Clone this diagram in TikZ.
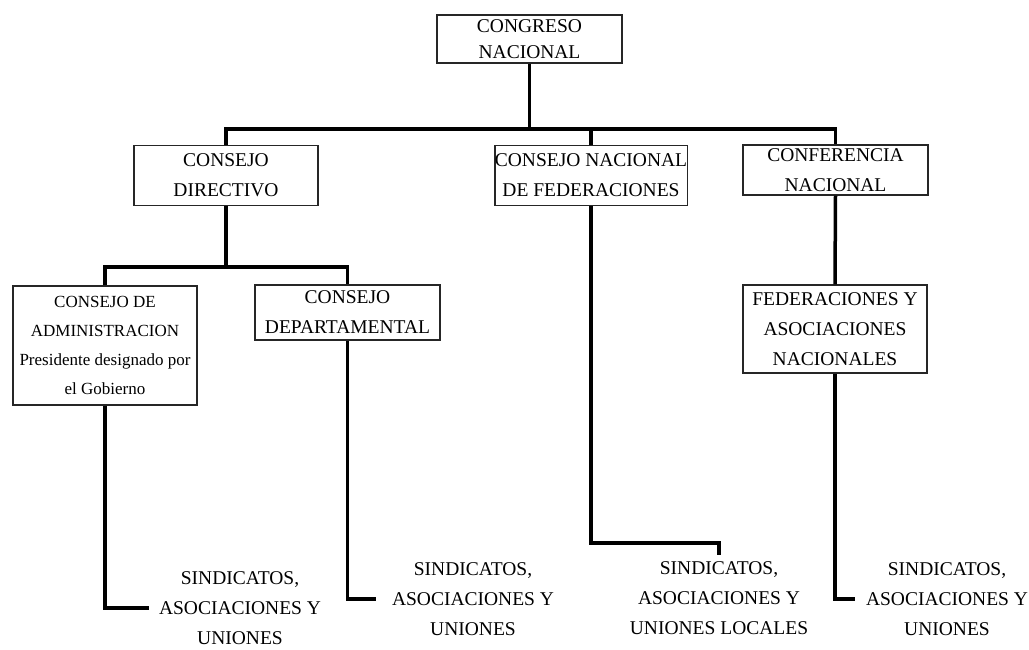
\documentclass[tikz,border=0pt]{standalone}
\usepackage{fontspec}
\setmainfont{Liberation Serif}
\begin{document}
\begin{tikzpicture}[x=1pt,y=-1pt,
  box/.style={draw=black!85,line width=1.3pt,inner sep=0pt,align=center,
    font=\fontsize{19.5}{30}\selectfont},
  lbl/.style={align=center,inner ysep=6pt,font=\fontsize{19.5}{30}\selectfont},
  conn/.style={line width=3.5pt,line join=miter}]
\useasboundingbox (0,0) rectangle (1029,650);
% boxes
\node[box,minimum width=185pt,minimum height=48pt,font=\fontsize{19.5}{26}\selectfont] (cn) at (529.5,39) {CONGRESO\\NACIONAL};
\node[box,minimum width=184pt,minimum height=60pt] (cd) at (226,175.5) {CONSEJO\\DIRECTIVO};
\node[box,minimum width=185pt,minimum height=60pt] (cnf) at (591,175.5) {CONSEJO NACIONAL\\DE FEDERACIONES};
\node[box,minimum width=185pt,minimum height=50pt] (cf) at (835.5,170) {CONFERENCIA\\NACIONAL};
\node[box,minimum width=184pt,minimum height=119pt,font=\fontsize{17}{29}\selectfont] (adm) at (105,345.5) {CONSEJO DE\\ADMINISTRACION\\Presidente designado por\\el Gobierno};
\node[box,minimum width=185pt,minimum height=55pt] (dep) at (347.5,312.5) {CONSEJO\\DEPARTAMENTAL};
\node[box,minimum width=184pt,minimum height=88pt] (fed) at (835,329) {FEDERACIONES Y\\ASOCIACIONES\\NACIONALES};
% bottom labels
\node[lbl,inner xsep=10pt] (s1) at (240,608) {SINDICATOS,\\ASOCIACIONES Y\\UNIONES};
\node[lbl,inner xsep=16pt] (s2) at (473,599) {SINDICATOS,\\ASOCIACIONES Y\\UNIONES};
\node[lbl] (s3) at (719,598) {SINDICATOS,\\ASOCIACIONES Y\\UNIONES LOCALES};
\node[lbl,inner xsep=11pt] (s4) at (947,599) {SINDICATOS,\\ASOCIACIONES Y\\UNIONES};
% bus coordinates
\coordinate (bus) at (0,129);
\coordinate (bus2) at (0,267);
\coordinate (b3) at (0,543);
% connectors
\draw[conn] (cn.south) -- (cn.south |- bus);
\draw[conn] (cd.north) -- (cd.north |- bus) -- (cf.north |- bus) -- (cf.north);
\draw[conn] (cnf.north) -- (cnf.north |- bus);
\draw[conn] (cd.south) -- (cd.south |- bus2);
\draw[conn] (adm.north) -- (adm.north |- bus2) -- (dep.north |- bus2) -- (dep.north);
\draw[conn] (cf.south) -- (fed.north);
\draw[conn] (adm.south) |- (s1.west);
\draw[conn] (dep.south) |- (s2.west);
\draw[conn] (cnf.south) -- (cnf.south |- b3) -- (s3.north |- b3) -- (s3.north);
\draw[conn] (fed.south) |- (s4.west);
\end{tikzpicture}
\end{document}
